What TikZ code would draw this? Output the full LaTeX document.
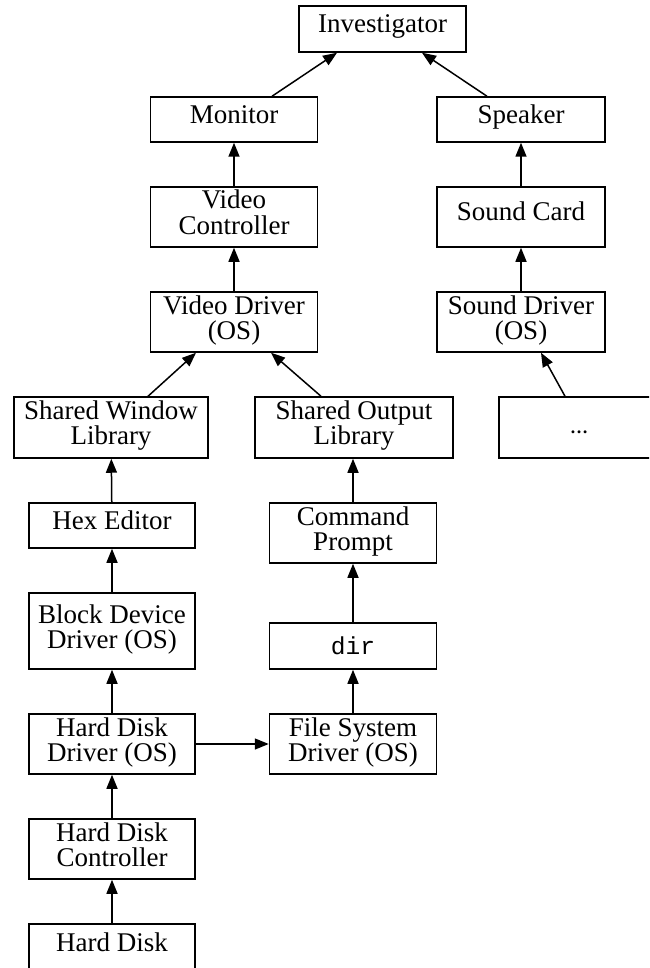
\documentclass[tikz,border=0pt]{standalone}
\usepackage{fontspec}
\setmainfont{Liberation Serif}
\newfontfamily\codefont{Liberation Mono}
\usetikzlibrary{arrows.meta}

\tikzset{
  box/.style={draw, rectangle, line width=1.5pt, inner sep=0pt, align=center,
    font=\fontsize{27}{25}\selectfont},
  one/.style={box, text height=17pt, text depth=9pt},
  two/.style={box, text height=47pt, text depth=13pt},
  link/.style={line width=1.5pt, -{Triangle[length=14pt,width=11pt]}},
}

\begin{document}
\begin{tikzpicture}[x=1pt, y=-1pt]
  \clip (0,0) rectangle (649,968);
  \fill[white] (0,0) rectangle (649,968);

  % top
  \node[one, minimum width=167pt, minimum height=46pt] (inv) at (382.5,29) {Investigator};

  % video path
  \node[one, minimum width=167pt, minimum height=45pt] (mon)  at (234,119.5) {Monitor};
  \node[two, minimum width=167pt, minimum height=60pt] (vctl) at (234,217) {Video\\Controller};
  \node[two, minimum width=167pt, minimum height=60pt] (vdrv) at (234,322) {Video Driver\\(OS)};

  % sound path
  \node[one, minimum width=168pt, minimum height=45pt] (spk)   at (521,119.5) {Speaker};
  \node[one, minimum width=168pt, minimum height=60pt] (scard) at (521,217) {Sound Card};
  \node[two, minimum width=168pt, minimum height=60pt] (sdrv)  at (521,322) {Sound Driver\\(OS)};
  \node[box, minimum width=160pt, minimum height=61pt, text height=12pt, text depth=1pt,
        font=\bfseries\fontsize{18}{18}\selectfont] (etc) at (579,427.5) {…};

  % libraries
  \node[two, minimum width=194pt, minimum height=61pt] (swl) at (111,427.5) {Shared Window\\Library};
  \node[two, minimum width=198pt, minimum height=61pt] (sol) at (354,427.5) {Shared Output\\Library};

  % left column
  \node[one, minimum width=166pt, minimum height=45pt] (hex) at (112,525.5) {Hex Editor};
  \node[two, minimum width=166pt, minimum height=76pt] (bdd) at (112,631) {Block Device\\Driver (OS)};
  \node[two, minimum width=166pt, minimum height=60pt] (hdd) at (112,744) {Hard Disk\\Driver (OS)};
  \node[two, minimum width=166pt, minimum height=60pt] (hdc) at (112,849) {Hard Disk\\Controller};
  \node[one, minimum width=166pt, minimum height=46pt] (hd)  at (112,947) {Hard Disk};

  % middle column
  \node[two, minimum width=167pt, minimum height=60pt] (cmd) at (353,533) {Command\\Prompt};
  \node[box, minimum width=167pt, minimum height=46pt, text height=20pt, text depth=3pt,
        font=\codefont\fontsize{24.5}{26}\selectfont] (dir) at (353,646) {dir};
  \node[two, minimum width=167pt, minimum height=60pt] (fsd) at (353,744) {File System\\Driver (OS)};

  % connectors
  \draw[link] ([xshift=38]mon.north) -- ([xshift=-45.5]inv.south);
  \draw[link] ([xshift=-34]spk.north) -- ([xshift=39.5]inv.south);
  \draw[link] (vctl) -- (mon);
  \draw[link] (vdrv) -- (vctl);
  \draw[link] (scard) -- (spk);
  \draw[link] (sdrv) -- (scard);
  \draw[link] ([xshift=-14]etc.north) -- ([xshift=20]sdrv.south);
  \draw[link] ([xshift=37]swl.north) -- ([xshift=-38]vdrv.south);
  \draw[link] ([xshift=-33]sol.north) -- ([xshift=37]vdrv.south);
  \draw[link] (hex) -- (swl);
  \draw[link] (bdd) -- (hex);
  \draw[link] (hdd) -- (bdd);
  \draw[link] (hdc) -- (hdd);
  \draw[link] (hd) -- (hdc);
  \draw[link] (hdd) -- (fsd);
  \draw[link] (fsd) -- (dir);
  \draw[link] (dir) -- (cmd);
  \draw[link] (cmd.north) -- (cmd.north |- sol.south);
\end{tikzpicture}
\end{document}
